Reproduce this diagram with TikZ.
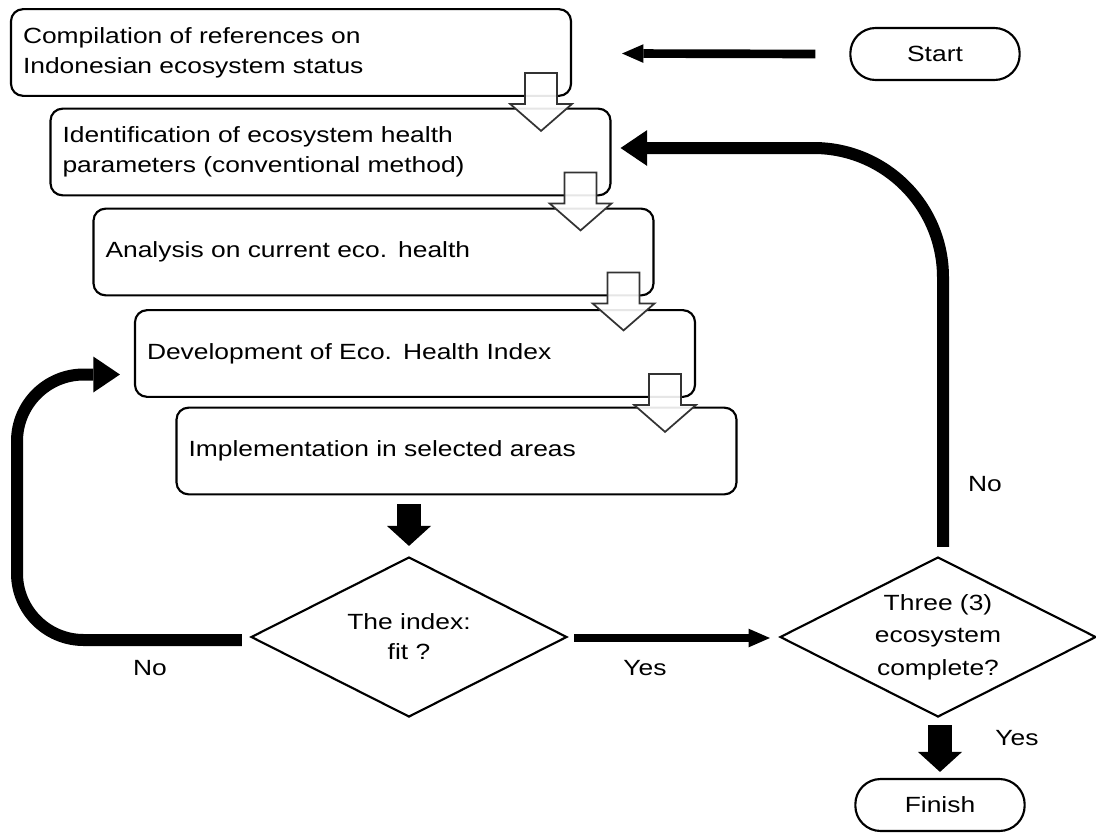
\documentclass[tikz,border=0pt]{standalone}
\usepackage{fontspec}
\setmainfont{Liberation Sans}[FakeStretch=1.2]
\usetikzlibrary{arrows.meta,calc,shapes.geometric}
\begin{document}
\begin{tikzpicture}[x=0.75pt,y=-0.75pt,
  font=\fontsize{16.5}{22.5}\selectfont,
  stepbox/.style={draw, line width=1.6pt, rounded corners=9pt, fill=white,
    minimum width=420pt, minimum height=65pt, text width=402pt,
    inner xsep=9pt, align=left},
  pill/.style={draw, line width=1.6pt, rounded corners=19pt, fill=white,
    minimum width=127pt, minimum height=39pt},
  decision/.style={diamond, draw, line width=1.6pt, fill=white,
    minimum width=237pt, minimum height=120pt, inner sep=-20pt, align=center},
  hollow/.style={draw=black!80, line width=1.3pt, fill=white, fill opacity=0.9},
  blockdown/.style={line width=18pt,
    -{Triangle[length=15pt,width=33pt,line width=0pt]}},
  thinarrow/.style={line width=6.5pt,
    -{Triangle[length=16pt,width=14pt,line width=0pt]}},
  looparrow/.style={line width=9pt,
    -{Triangle[length=20pt,width=27pt,line width=0pt]}},
  lbl/.style={inner sep=0pt}
]
\useasboundingbox (0,0) rectangle (1096,832);

% process steps
\node[stepbox] (b1) at (291,52.5) {Compilation of references on\\Indonesian ecosystem status};
\node[stepbox] (b2) at (330.5,152) {Identification of ecosystem health\\parameters (conventional method)};
\node[stepbox] (b3) at (373.5,252) {Analysis on current eco. health};
\node[stepbox] (b4) at (415,353.5) {Development of Eco. Health Index};
\node[stepbox] (b5) at (456.5,451) {Implementation in selected areas};

% hollow block arrows between the steps
\foreach \b in {b1,b2,b3,b4}{
  \draw[hollow] ($(\b.south east)+(-47,-24)$) -- ++(0,31) -- ++(-15,0)
    -- ++(31,27) -- ++(31,-27) -- ++(-15,0) -- ++(0,-31) -- cycle;
}

% terminals and decisions
\node[pill] (start) at (935,54) {Start};
\node[pill] (finish) at (940,805) {Finish};
\node[decision] (d1) at (409,637) {The index:\\fit ?};
\node[decision, font=\fontsize{16.5}{24.5}\selectfont] (d2) at (938,637) {Three (3)\\ecosystem\\complete?};

% connectors
\draw[thinarrow] ($(start.west)+(-34,0)$) -- ($(b1.east)+(50,1)$);
\draw[blockdown] (d1.north |- b5.south) ++(0,9) coordinate (s5) -- ($(d1.north)+(0,-10)$);
\draw[thinarrow] ($(d1.east)+(6,1)$) -- ($(d2.west)+(-9,1)$);
\draw[blockdown] ($(d2.south)+(2,7)$) -- ($(finish.north)+(0,-6)$);
\draw[looparrow, rounded corners=97pt] ($(d2.north)+(5,-9)$) |- ($(b2.east)+(9,-4)$);
\coordinate (lx) at (17,640);
\draw[looparrow, rounded corners=50pt] ($(d1.west)+(-8,3)$) -- (lx) |- ($(b4.west)+(-14,21)$);

% branch labels
\node[lbl] (no1) at (150,668) {No};
\node[lbl] (yes1) at (645,668) {Yes};
\node[lbl] (yes2) at (1017,738) {Yes};
\node[lbl] (no2) at (985,484) {No};
\end{tikzpicture}
\end{document}
